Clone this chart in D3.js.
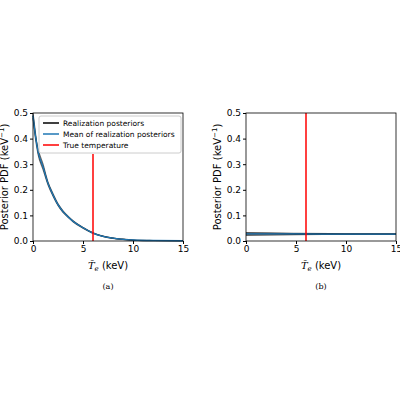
<!DOCTYPE html><html><head><meta charset="utf-8"><script src="https://d3js.org/d3.v7.min.js"></script>
<style>body{margin:0;background:#fff}text{font-family:"DejaVu Sans",sans-serif}</style></head><body><svg id="c" width="400" height="400"></svg>
<script>
const xs=[0,0.25,0.5,1,1.5,2,2.5,3,3.5,4,5,6,7,8,9,10,12,15];
const realA=[
[0.50,0.42,0.35,0.29,0.225,0.18,0.142,0.115,0.095,0.077,0.052,0.032,0.019,0.011,0.007,0.004,0.002,0.001],
[0.49,0.41,0.36,0.30,0.23,0.185,0.145,0.118,0.097,0.079,0.053,0.031,0.018,0.011,0.006,0.004,0.002,0.001],
[0.48,0.40,0.34,0.28,0.22,0.176,0.139,0.112,0.093,0.075,0.050,0.030,0.018,0.010,0.006,0.003,0.001,0.001]];
const meanA=[0.49,0.41,0.35,0.29,0.225,0.18,0.142,0.115,0.095,0.077,0.052,0.031,0.018,0.011,0.006,0.004,0.002,0.001];
const xsB=[0,5,10,15];
const realB=[[0.033,0.030,0.028,0.027],[0.030,0.029,0.027,0.027],[0.026,0.027,0.027,0.027],[0.022,0.025,0.026,0.027]];
const meanB=[0.028,0.0275,0.027,0.027];
const trueT=6;
const xticks=[0,5,10,15], yticks=[0,0.1,0.2,0.3,0.4,0.5];
const svg=d3.select("#c");
function panel(x0,xsArr,real,mean,cap,legend){
 const x=d3.scaleLinear().domain([0,15]).range([x0,x0+150]);
 const y=d3.scaleLinear().domain([0,0.5]).range([241,113]);
 const g=svg.append("g");
 const ax=g.append("g").attr("transform","translate(0,241)").call(d3.axisBottom(x).tickValues(xticks).tickSize(3).tickPadding(2));
 const ay=g.append("g").attr("transform",`translate(${x0},0)`).call(d3.axisLeft(y).tickValues(yticks).tickFormat(d3.format(".1f")).tickSize(3).tickPadding(2));
 [ax,ay].forEach(a=>{a.selectAll("text").attr("font-size",9).attr("fill","#000");a.select(".domain").remove();});
 const line=d3.line().x((d,i)=>x(xsArr[i])).y(d=>y(d)).curve(d3.curveMonotoneX);
 real.forEach(r=>g.append("path").attr("d",line(r)).attr("fill","none").attr("stroke","#000").attr("stroke-opacity",0.6).attr("stroke-width",1.2));
 g.append("path").attr("d",line(mean)).attr("fill","none").attr("stroke","#1f77b4").attr("stroke-width",1.3);
 g.append("line").attr("x1",x(trueT)).attr("x2",x(trueT)).attr("y1",y(0)).attr("y2",y(legend?0.34:0.5)).attr("stroke","red").attr("stroke-width",1.5);
 g.append("rect").attr("x",x0).attr("y",113).attr("width",150).attr("height",128).attr("fill","none").attr("stroke","#000").attr("stroke-width",0.8);
 g.append("text").attr("x",x0+75).attr("y",269).attr("text-anchor","middle").attr("font-size",10).html('<tspan font-family="DejaVu Serif" font-style="italic">T̄</tspan><tspan font-family="DejaVu Serif" font-style="italic" font-size="7" dy="2">e</tspan><tspan dy="-2"> (keV)</tspan>');
 g.append("text").attr("transform",`translate(${x0-25},177) rotate(-90)`).attr("text-anchor","middle").attr("font-size",10).html('Posterior PDF (keV<tspan font-size="7" dy="-4">−1</tspan><tspan dy="4">)</tspan>');
 g.append("text").attr("x",x0+75).attr("y",289).attr("text-anchor","middle").attr("font-size",8).attr("font-family","DejaVu Serif").style("font-family","DejaVu Serif").text(cap);
 if(legend){
  const lg=g.append("g");
  lg.append("rect").attr("x",x0+6).attr("y",116).attr("width",142).attr("height",37).attr("fill","#fff").attr("fill-opacity",0.85).attr("stroke","#ccc").attr("rx",2);
  [["Realization posteriors","#000"],["Mean of realization posteriors","#1f77b4"],["True temperature","red"]].forEach((d,i)=>{
   const yy=123+i*11;
   lg.append("line").attr("x1",x0+10).attr("x2",x0+26).attr("y1",yy).attr("y2",yy).attr("stroke",d[1]).attr("stroke-width",1.5);
   lg.append("text").attr("x",x0+30).attr("y",yy+3).attr("font-size",7.5).text(d[0]);
  });
 }
}
panel(33,xs,realA,meanA,"(a)",true);
panel(246,xsB,realB,meanB,"(b)",false);
</script></body></html>
